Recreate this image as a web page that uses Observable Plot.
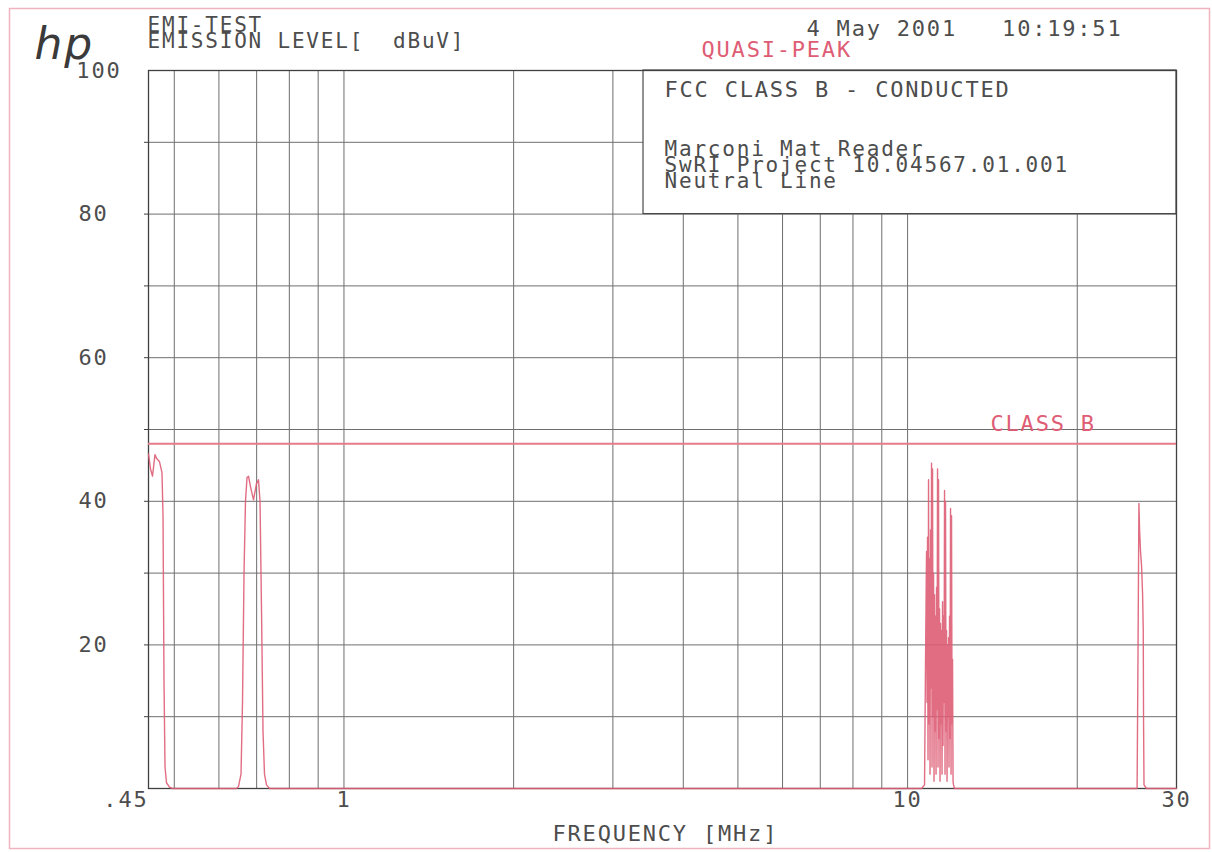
<!DOCTYPE html>
<html>
<head>
<meta charset="utf-8">
<script src="https://cdn.jsdelivr.net/npm/d3@7"></script>
<script src="https://cdn.jsdelivr.net/npm/@observablehq/plot@0.6"></script>
<style>
  body { margin: 0; background: #fff; }
  #chart svg text { letter-spacing: 1.8px; }
</style>
</head>
<body>
<div id="chart"></div>
<script>
// Quasi-peak conducted emission sweep, neutral line (frequency in MHz, level in dBuV)
const freqMHz = [
  0.450, 0.4537, 0.4574, 0.4621, 0.4650, 0.4707, 0.4755, 0.4775, 0.4794, 0.4814, 0.4843, 0.4903, 0.4964,
  0.6450, 0.6500, 0.6567, 0.6607, 0.6648, 0.6688, 0.6730, 0.6771, 0.6827, 0.6911, 0.6996, 0.7053, 0.7097,
  0.7140, 0.7184, 0.7228, 0.7288, 0.7378,
  10.59, 10.717, 10.761, 10.805, 10.827, 10.849, 10.871, 10.894, 10.916, 10.938, 10.961, 10.983, 11.006,
  11.028, 11.051, 11.073, 11.096, 11.119, 11.141, 11.164, 11.187, 11.210, 11.233, 11.256, 11.279, 11.302,
  11.325, 11.348, 11.371, 11.395, 11.418, 11.441, 11.464, 11.488, 11.511, 11.535, 11.558, 11.582, 11.606,
  11.630, 11.653, 11.677, 11.701, 11.725, 11.749, 11.773, 11.797, 11.821, 11.845, 11.870, 11.894, 11.918,
  11.943, 11.967, 11.992, 12.016, 12.041, 12.065, 12.115,
  25.54, 25.64, 25.73, 25.80, 25.90, 26.01, 26.12, 26.19, 26.22, 26.27, 26.54, 30.0
];
const levelDbuV = [
  46.6, 44.5, 43.5, 46.5, 46.0, 45.5, 44.0, 38.0, 15.0, 3.0, 0.8, 0.2, 0,
  0, 0.3, 2, 12, 30, 40, 43.3, 43.5, 42, 40.2, 42.5, 43, 40,
  25, 8, 2, 0.5, 0,
  0, 0.5, 18, 33, 12, 35, 4, 43, 9, 32, 2, 36, 14,
  45.3, 3, 44.5, 10, 30, 1, 27, 8, 24, 2, 28, 11, 44.5,
  3, 43, 7, 25, 1, 23, 9, 22, 2, 26, 6, 24, 12,
  41.5, 2, 40, 8, 22, 1, 20, 10, 21, 3, 24, 7, 39,
  2, 38, 9, 18, 1, 0.5, 0,
  0, 20, 39.7, 36, 33, 31, 27, 22, 10, 0.5, 0, 0
];

// FCC Class B quasi-peak conducted limit
const classBLimit = 48;

// Plotter grid
const xGrid = [0.5, 0.6, 0.7, 0.8, 0.9, 1, 2, 3, 4, 5, 6, 7, 8, 9, 10, 20];
const yGrid = [10, 20, 30, 40, 50, 60, 70, 80, 90];
const yLabelTicks = [20, 40, 60, 80];
const yTopTick = [100];
const xStartTick = [0.45];
const xLabelTicks = [1, 10, 30];

// Header / annotation texts
const logoText = "hp";
const titleLines = ["EMI-TEST", "EMISSION LEVEL[  dBuV]"];
const stampText = "4 May 2001   10:19:51";
const detectorText = "QUASI-PEAK";
const boxLines = ["FCC CLASS B - CONDUCTED", "Marconi Mat Reader", "SwRI Project 10.04567.01.001", "Neutral Line"];
const limitLabel = "CLASS B";
const xAxisTitle = "FREQUENCY [MHz]";

// Info panel extent (MHz, dBuV)
const panelFreq = [3.4, 30];
const panelLevel = [80, 100];

const trace = freqMHz.map((f, i) => ({f, v: levelDbuV[i]}));

const ink = "#4d4d4d";
const grid = "#6e6e6e";
const red = "#de5d75";
const mono = "DejaVu Sans Mono";
const fs = 22;
const fsSmall = 21;

const label = (txt, dx, dy, opts = {}) =>
  Plot.text([txt], {
    text: d => d, frameAnchor: "top-left", textAnchor: "start", lineAnchor: "middle",
    dx, dy, fontSize: fs, fontFamily: mono, fill: ink, ...opts
  });

const chart = Plot.plot({
  width: 1212,
  height: 852,
  marginLeft: 148,
  marginRight: 36,
  marginTop: 70,
  marginBottom: 64,
  style: {fontFamily: mono, fontSize: fs + "px", background: "#fff", color: ink},
  x: {type: "log", domain: [0.45, 30]},
  y: {domain: [0, 100]},
  marks: [
    Plot.ruleX(xGrid, {stroke: grid, strokeWidth: 1}),
    Plot.ruleY(yGrid, {stroke: grid, strokeWidth: 1}),
    Plot.rect([0], {x1: () => panelFreq[0], x2: () => panelFreq[1], y1: () => panelLevel[0], y2: () => panelLevel[1], fill: "#fff", stroke: "#4a4a4a", strokeWidth: 1.2}),
    Plot.frame({stroke: "#404040", strokeWidth: 1.3}),
    Plot.ruleY([classBLimit], {stroke: "#e47b8a", strokeWidth: 2}),
    Plot.line(trace, {x: "f", y: "v", stroke: red, strokeWidth: 1.4, strokeOpacity: 0.9}),
    Plot.axisY(yGrid, {anchor: "left", tickSize: 4, tickFormat: () => "", label: null, stroke: "#404040"}),
    Plot.axisY(yLabelTicks, {anchor: "left", tickSize: 0, tickPadding: 40, label: null, fontSize: fs, fill: ink}),
    Plot.axisY(yTopTick, {anchor: "left", tickSize: 0, tickPadding: 27, label: null, fontSize: fs, fill: ink}),
    Plot.axisX(xStartTick, {anchor: "bottom", tickSize: 0, tickPadding: 3, label: null, textAnchor: "end", tickFormat: () => ".45", fontSize: fs, fill: ink}),
    Plot.axisX(xLabelTicks, {anchor: "bottom", tickSize: 0, tickPadding: 3, label: null, tickFormat: d => String(d), fontSize: fs, fill: ink}),
    label(logoText, -114, -26, {fontFamily: "DejaVu Sans", fontStyle: "italic", fontWeight: 200, fontSize: 44, fill: "#3a3a3a"}),
    label(titleLines[0], -1, -45, {fontSize: fsSmall}),
    label(titleLines[1], -1, -29, {fontSize: fsSmall}),
    label(stampText, 658, -42),
    label(detectorText, 553, -21, {fill: red}),
    label(boxLines[0], 516, 19),
    label(boxLines[1], 516, 79, {fontSize: fsSmall}),
    label(boxLines[2], 516, 95, {fontSize: fsSmall}),
    label(boxLines[3], 516, 111, {fontSize: fsSmall}),
    label(limitLabel, 842, 353, {fill: red}),
    label(xAxisTitle, 404, 763)
  ]
});

// Pink page border around the plotter sheet
d3.select(chart).append("rect")
  .attr("x", 9.5).attr("y", 8.5).attr("width", 1200).attr("height", 840)
  .attr("fill", "none").attr("stroke", "#f0b4be").attr("stroke-width", 1.5);

document.getElementById("chart").appendChild(chart);
</script>
</body>
</html>
